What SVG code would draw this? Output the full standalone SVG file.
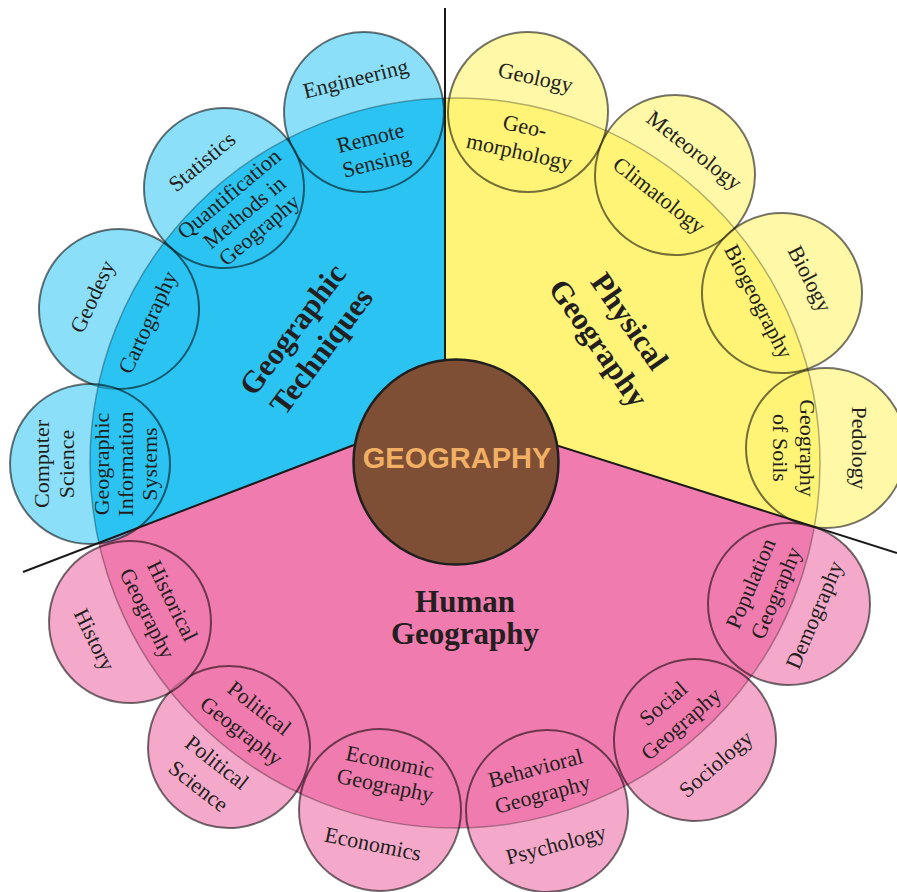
<svg xmlns="http://www.w3.org/2000/svg" width="897" height="892" viewBox="0 0 897 892">
<style>
.sm{font-family:"Liberation Serif","Times New Roman",serif;font-size:22px;fill:#231f20;text-anchor:middle}
.bd{font-family:"Liberation Serif","Times New Roman",serif;font-weight:bold;font-size:31px;fill:#231f20;text-anchor:middle}
.cb{fill:#2bc4f2;fill-opacity:.55;stroke:#000;stroke-opacity:.55;stroke-width:2}
.cy{fill:#fff477;fill-opacity:.65;stroke:#000;stroke-opacity:.55;stroke-width:2}
.cp{fill:#f07bae;fill-opacity:.65;stroke:#000;stroke-opacity:.55;stroke-width:2}
.div{stroke:#1a1a1a;stroke-width:2;fill:none}
</style>
<rect width="897" height="892" fill="#fff"/>
<g id="sectors">
<path d="M445,410 L445,98.1 A365,365 0 0,0 98.8,542.9 Z" fill="#2bc4f2"/>
<path d="M445,410 L445,98.1 A365,365 0 0,1 814.3,526.8 Z" fill="#fff477"/>
<path d="M445,410 L814.3,526.8 A365,365 0 0,1 98.8,542.9 Z" fill="#f07bae"/>
</g>
<g id="n-engineering" transform="translate(364,112) rotate(-14)">
<circle class="cb" r="80"/>
<text class="sm" y="-27">Engineering</text>
<text class="sm" y="34">Remote</text>
<text class="sm" y="59">Sensing</text>
</g>
<g id="n-statistics" transform="translate(224,188) rotate(-40)">
<circle class="cb" r="80"/>
<text class="sm" y="-27">Statistics</text>
<text class="sm" y="15">Quantification</text>
<text class="sm" y="39">Methods in</text>
<text class="sm" y="62">Geography</text>
</g>
<g id="n-geodesy" transform="translate(119,309) rotate(-65)">
<circle class="cb" r="80"/>
<text class="sm" y="-22">Geodesy</text>
<text class="sm" y="39">Cartography</text>
</g>
<g id="n-computer" transform="translate(90,464) rotate(-90)">
<circle class="cb" r="80"/>
<text class="sm" y="-41">Computer</text>
<text class="sm" y="-16">Science</text>
<text class="sm" y="19">Geographic</text>
<text class="sm" y="43">Information</text>
<text class="sm" y="67">Systems</text>
</g>
<g id="n-geology" transform="translate(528,112) rotate(12.3)">
<circle class="cy" r="80"/>
<text class="sm" y="-28">Geology</text>
<text class="sm" y="22">Geo-</text>
<text class="sm" y="48">morphology</text>
</g>
<g id="n-meteorology" transform="translate(675,175) rotate(38)">
<circle class="cy" r="80"/>
<text class="sm" y="-24">Meteorology</text>
<text class="sm" y="33">Climatology</text>
</g>
<g id="n-biology" transform="translate(782,293) rotate(63)">
<circle class="cy" r="80"/>
<text class="sm" y="-24">Biology</text>
<text class="sm" x="-3" y="32">Biogeography</text>
</g>
<g id="n-pedology" transform="translate(826,448) rotate(90)">
<circle class="cy" r="80"/>
<text class="sm" y="-26">Pedology</text>
<text class="sm" y="26">Geography</text>
<text class="sm" y="53">of Soils</text>
</g>
<g id="n-population" transform="translate(789,604) rotate(-67)">
<circle class="cp" r="81"/>
<text class="sm" x="4" y="-36">Population</text>
<text class="sm" x="5" y="-9">Geography</text>
<text class="sm" y="35">Demography</text>
</g>
<g id="n-social" transform="translate(695,740) rotate(-41)">
<circle class="cp" r="81"/>
<text class="sm" y="-41">Social</text>
<text class="sm" y="-14">Geography</text>
<text class="sm" y="39">Sociology</text>
</g>
<g id="n-behavioral" transform="translate(547,811) rotate(-15)">
<circle class="cp" r="81"/>
<text class="sm" y="-37">Behavioral</text>
<text class="sm" y="-10">Geography</text>
<text class="sm" y="42">Psychology</text>
</g>
<g id="n-economic" transform="translate(380,810) rotate(11.7)">
<circle class="cp" r="81"/>
<text class="sm" y="-42">Economic</text>
<text class="sm" y="-18">Geography</text>
<text class="sm" y="42">Economics</text>
</g>
<g id="n-political" transform="translate(229,747) rotate(38)">
<circle class="cp" r="81"/>
<text class="sm" y="-42">Political</text>
<text class="sm" y="-13">Geography</text>
<text class="sm" y="27">Political</text>
<text class="sm" y="57">Science</text>
</g>
<g id="n-historical" transform="translate(130,622) rotate(63.6)">
<circle class="cp" r="81"/>
<text class="sm" y="-40">Historical</text>
<text class="sm" y="-12">Geography</text>
<text class="sm" y="47">History</text>
</g>
<circle id="outline" cx="455" cy="463" r="365" fill="none" stroke="#000" stroke-opacity=".3" stroke-width="1.5"/>
<g id="connectors" class="div">
<path d="M445,8 L445,410"/>
<path d="M23,572 L445,410"/>
<path d="M445,410 L897,553"/>
</g>
<g id="n-geography">
<circle cx="456" cy="462" r="102.5" fill="#7f4f35" stroke="#1f1f1f" stroke-width="2.5"/>
<text x="457" y="468" font-family="'Liberation Sans',Arial,sans-serif" font-weight="bold" font-size="29" fill="#f2b064" text-anchor="middle">GEOGRAPHY</text>
</g>
<g id="n-techniques" transform="translate(308,341) rotate(-53)">
<text class="bd" y="-9">Geographic</text>
<text class="bd" y="27">Techniques</text>
</g>
<g id="n-physical" transform="translate(613,333) rotate(55)">
<text class="bd" y="-10">Physical</text>
<text class="bd" y="28">Geography</text>
</g>
<g id="n-human">
<text class="bd" x="465" y="612">Human</text>
<text class="bd" x="465" y="644">Geography</text>
</g>
</svg>
